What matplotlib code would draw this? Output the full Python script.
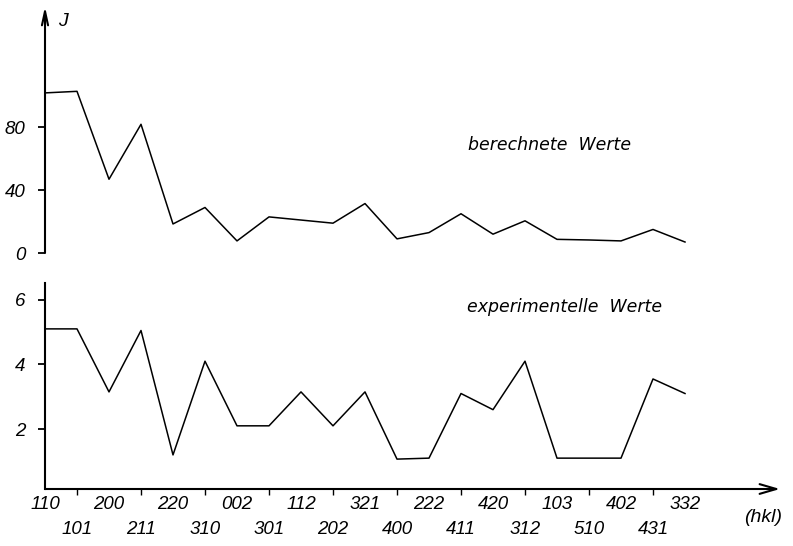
import matplotlib
matplotlib.use("Agg")
import matplotlib.pyplot as plt

# Reflections (hkl), in the order they are plotted along the x axis
hkl = ['110', '101', '200', '211', '220', '310', '002', '301', '112', '202',
       '321', '400', '222', '411', '420', '312', '103', '510', '402', '431', '332']

# Intensities J
calculated = [102, 103, 47, 82, 18.5, 29, 7.7, 23, 21, 19, 31.5,
              9, 13, 25, 12, 20.5, 8.7, 8.3, 7.7, 15, 7]
experimental = [5.1, 5.1, 3.15, 5.05, 1.2, 4.1, 2.1, 2.1, 3.15, 2.1, 3.15,
                1.07, 1.1, 3.1, 2.6, 4.1, 1.1, 1.1, 1.1, 3.55, 3.1]

calc_ticks = [0, 40, 80]
exp_ticks = [2, 4, 6]

W, H = 793, 546
NUM_FONT = ['Liberation Sans', 'DejaVu Sans']
TXT_FONT = ['DejaVu Sans']
NUM_SIZE = 13.5

fig = plt.figure(figsize=(W / 100, H / 100), dpi=100)

x = list(range(len(hkl)))
x_end = (780 - 45) / 32.0          # tip of the x-axis arrow
x_max = (W - 45) / 32.0

# ---- upper panel: calculated values ----
ax1 = fig.add_axes([45 / W, 1 - 253 / H, (W - 45) / W, 248 / H])
ax1.plot(x, calculated, color='black', lw=1.1, clip_on=False)
ax1.set_xlim(0, x_max)
ax1.set_ylim(0, 158)
for s in ax1.spines.values():
    s.set_visible(False)
ax1.set_xticks([])
ax1.set_yticks(calc_ticks)
ax1.set_yticklabels([str(v) for v in calc_ticks], family=NUM_FONT,
                    style='italic', fontsize=NUM_SIZE)
ax1.tick_params(axis='y', direction='out', length=5, width=1.3, pad=9)
ax1.annotate('', xy=(0, 157), xytext=(0, 0), xycoords='data',
             arrowprops=dict(arrowstyle='->,head_length=1.0,head_width=0.22',
                             lw=1.5, color='black', shrinkA=0, shrinkB=0),
             annotation_clip=False)
ax1.text(0.674, 0.435, 'berechnete  Werte', transform=ax1.transAxes,
         ha='center', va='center', family=TXT_FONT, style='italic', fontsize=12.5)

# ---- lower panel: experimental values ----
ax2 = fig.add_axes([45 / W, 1 - 489 / H, (W - 45) / W, (489 - 283) / H])
ax2.plot(x, experimental, color='black', lw=1.1, clip_on=False)
ax2.set_xlim(0, x_max)
ax2.set_ylim(0.145, 6.52)
for name in ('top', 'right', 'bottom'):
    ax2.spines[name].set_visible(False)
ax2.spines['left'].set_linewidth(1.5)
ax2.set_yticks(exp_ticks)
ax2.set_yticklabels([str(v) for v in exp_ticks], family=NUM_FONT,
                    style='italic', fontsize=NUM_SIZE)
ax2.tick_params(axis='y', direction='out', length=5, width=1.3, pad=9)

# hkl labels in two staggered rows: even positions above, odd below (with ticks)
ax2.set_xticks(x[0::2])
ax2.set_xticklabels(hkl[0::2], family=NUM_FONT, style='italic', fontsize=NUM_SIZE)
ax2.set_xticks(x[1::2], minor=True)
ax2.set_xticklabels(hkl[1::2], minor=True, family=NUM_FONT, style='italic',
                    fontsize=NUM_SIZE)
ax2.tick_params(axis='x', which='major', length=0, pad=5)
ax2.tick_params(axis='x', which='minor', direction='out', length=4,
                width=1.0, pad=19)

ax2.annotate('', xy=(x_end, 0.145), xytext=(0, 0.145), xycoords='data',
             arrowprops=dict(arrowstyle='->,head_length=1.2,head_width=0.35',
                             lw=1.5, color='black', shrinkA=0, shrinkB=0),
             annotation_clip=False)
ax2.text(0.695, 0.885, 'experimentelle  Werte', transform=ax2.transAxes,
         ha='center', va='center', family=TXT_FONT, style='italic', fontsize=12.5)

fig.text(63 / W, 1 - 22 / H, 'J', family=NUM_FONT, style='italic',
         fontsize=14, ha='center', va='center')
fig.text(763 / W, 1 - 517 / H, '(hkl)', family=NUM_FONT, style='italic',
         fontsize=14, ha='center', va='center')

fig.savefig('out.png', dpi=100, facecolor='white')
